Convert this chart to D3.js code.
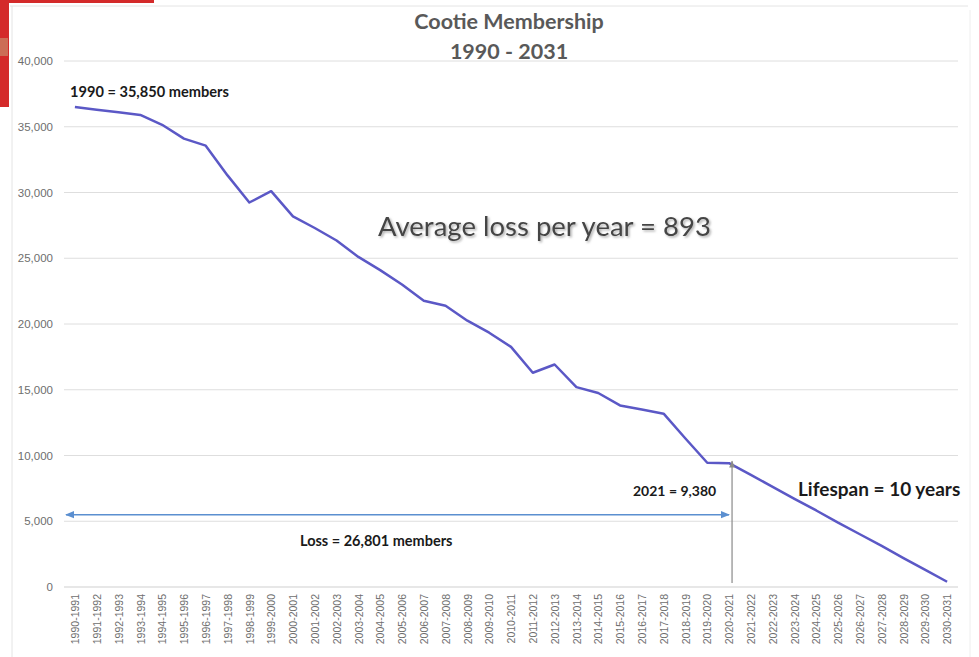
<!DOCTYPE html>
<html>
<head>
<meta charset="utf-8">
<script src="https://cdn.jsdelivr.net/npm/d3@7"></script>
<style>
  html, body { margin: 0; padding: 0; background: #fff; }
  svg { display: block; font-family: Lato, "Open Sans", "Liberation Sans", sans-serif; }
</style>
</head>
<body>
<svg id="chart" width="979" height="657"></svg>
<script>
// categories (membership years)
const seasons = [
  "1990-1991", "1991-1992", "1992-1993", "1993-1994", "1994-1995", "1995-1996",
  "1996-1997", "1997-1998", "1998-1999", "1999-2000", "2000-2001", "2001-2002",
  "2002-2003", "2003-2004", "2004-2005", "2005-2006", "2006-2007", "2007-2008",
  "2008-2009", "2009-2010", "2010-2011", "2011-2012", "2012-2013", "2013-2014",
  "2014-2015", "2015-2016", "2016-2017", "2017-2018", "2018-2019", "2019-2020",
  "2020-2021", "2021-2022", "2022-2023", "2023-2024", "2024-2025", "2025-2026",
  "2026-2027", "2027-2028", "2028-2029", "2029-2030", "2030-2031"
];

// members
const members = [
  36500, 36300, 36100, 35900, 35150, 34100,
  33560, 31300, 29240, 30100, 28180, 27300,
  26350, 25100, 24100, 23000, 21770, 21390,
  20250, 19340, 18260, 16290, 16920, 15200,
  14750, 13810, 13500, 13180, 11290, 9450,
  9420, 8520, 7620, 6700, 5820, 4890,
  4010, 3120, 2190, 1300, 400
];

const yTicks = [0, 5000, 10000, 15000, 20000, 25000, 30000, 35000, 40000];

const svg = d3.select("#chart");

// page decoration at the left edge
svg.append("rect").attr("x", 0).attr("y", 0).attr("width", 9).attr("height", 107).attr("fill", "#d42a2a");
svg.append("rect").attr("x", 0).attr("y", 0).attr("width", 154).attr("height", 3).attr("fill", "#d42a2a");
svg.append("rect").attr("x", 0).attr("y", 38).attr("width", 8).attr("height", 18).attr("fill", "#c98a6a").attr("opacity", 0.7);

// chart frame
svg.append("line").attr("x1", 10).attr("x2", 968).attr("y1", 6).attr("y2", 6).attr("stroke", "#e4e4e4");
svg.append("line").attr("x1", 12).attr("x2", 12).attr("y1", 6).attr("y2", 657).attr("stroke", "#e4e4e4");
svg.append("line").attr("x1", 970).attr("x2", 970).attr("y1", 10).attr("y2", 657).attr("stroke", "#eeeeee");

const x = d3.scalePoint().domain(seasons).range([64, 958]).padding(0.5);
const y = d3.scaleLinear().domain([0, 40000]).range([587, 61]);

// gridlines
svg.append("g")
  .selectAll("line")
  .data(yTicks)
  .join("line")
  .attr("x1", 64)
  .attr("x2", 958)
  .attr("y1", d => y(d))
  .attr("y2", d => y(d))
  .attr("stroke", d => d === 0 ? "#cfcfcf" : "#dedede")
  .attr("stroke-width", 1);

// y axis labels
const yAxis = svg.append("g")
  .attr("transform", "translate(56,0)")
  .call(d3.axisLeft(y).tickValues(yTicks).tickSize(0).tickPadding(3).tickFormat(d3.format(",")));
yAxis.select(".domain").remove();
yAxis.selectAll("text").attr("fill", "#6e6e6e").style("font-size", "11.5px");

// x axis labels
const xAxis = svg.append("g")
  .attr("transform", "translate(0,592)")
  .call(d3.axisBottom(x).tickSize(0).tickPadding(0));
xAxis.select(".domain").remove();
xAxis.selectAll("text")
  .attr("fill", "#6e6e6e")
  .style("font-size", "10.5px")
  .attr("transform", "rotate(-90)")
  .attr("text-anchor", "end")
  .attr("dy", "0.35em")
  .attr("x", -2)
  .attr("y", 0);

// title
svg.append("text").attr("x", 509).attr("y", 29).attr("text-anchor", "middle")
  .attr("fill", "#595959").style("font-size", "21.5px").style("font-weight", "bold")
  .text("Cootie Membership");
svg.append("text").attr("x", 509).attr("y", 59).attr("text-anchor", "middle")
  .attr("fill", "#595959").style("font-size", "21.5px").style("font-weight", "bold")
  .text("1990 - 2031");

// membership line
const line = d3.line()
  .x((d, i) => x(seasons[i]))
  .y(d => y(d));

svg.append("path")
  .datum(members)
  .attr("d", line)
  .attr("fill", "none")
  .attr("stroke", "#5b58c6")
  .attr("stroke-width", 2.5)
  .attr("stroke-linejoin", "round");

// arrow markers + shadow filter
const defs = svg.append("defs");
defs.append("marker").attr("id", "blueArrow").attr("viewBox", "0 0 10 10")
  .attr("refX", 9).attr("refY", 5).attr("markerWidth", 6).attr("markerHeight", 6)
  .attr("orient", "auto-start-reverse")
  .append("path").attr("d", "M0,1 L10,5 L0,9 Z").attr("fill", "#5b8fd0");
defs.append("marker").attr("id", "grayArrow").attr("viewBox", "0 0 10 10")
  .attr("refX", 9).attr("refY", 5).attr("markerWidth", 6).attr("markerHeight", 6)
  .attr("orient", "auto")
  .append("path").attr("d", "M0,1 L10,5 L0,9 Z").attr("fill", "#8a8a8a");
defs.append("filter").attr("id", "shadow")
  .attr("x", "-5%").attr("y", "-20%").attr("width", "110%").attr("height", "150%")
  .append("feDropShadow")
  .attr("dx", 1.5).attr("dy", 1.5).attr("stdDeviation", 0.8)
  .attr("flood-color", "#999").attr("flood-opacity", 0.8);

// loss arrow (1990 -> 2021)
const i2021 = 30;
svg.append("line")
  .attr("x1", 66).attr("x2", x(seasons[i2021]))
  .attr("y1", y(5500)).attr("y2", y(5500))
  .attr("stroke", "#5b8fd0").attr("stroke-width", 1.5)
  .attr("marker-start", "url(#blueArrow)")
  .attr("marker-end", "url(#blueArrow)");

// 2021 pointer
svg.append("line")
  .attr("x1", x(seasons[i2021]) + 3).attr("x2", x(seasons[i2021]) + 3)
  .attr("y1", 583).attr("y2", y(members[i2021]) - 2)
  .attr("stroke", "#8a8a8a").attr("stroke-width", 1.2)
  .attr("marker-end", "url(#grayArrow)");

// annotations
function note(tx, ty, size, label, weight, color) {
  return svg.append("text").attr("x", tx).attr("y", ty)
    .attr("fill", color || "#1a1a1a")
    .style("font-size", size + "px")
    .style("font-weight", weight || "bold")
    .text(label);
}

note(70, 97, 14.6, "1990 = 35,850 members");
note(633, 496, 14, "2021 = 9,380");
note(798, 496, 19, "Lifespan = 10 years");
note(300, 546, 14.5, "Loss = 26,801 members");

// big note with a soft shadow
note(378, 236, 27.5, "Average loss per year = 893", "normal", "#454545")
  .attr("filter", "url(#shadow)");
</script>
</body>
</html>
